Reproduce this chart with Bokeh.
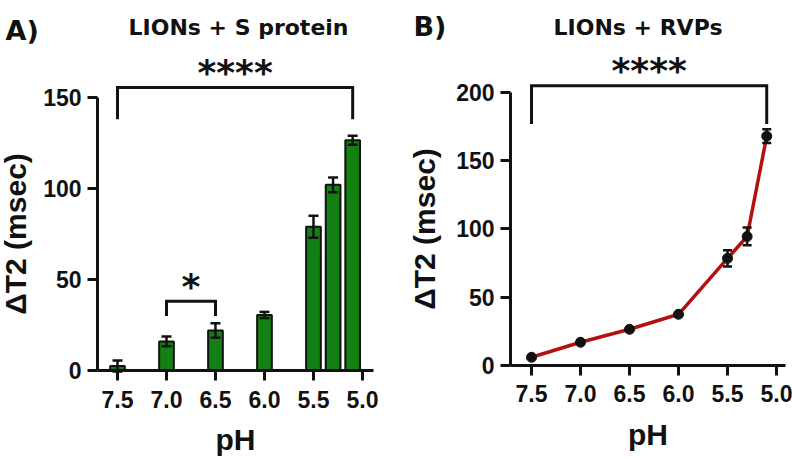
from bokeh.plotting import figure
from bokeh.layouts import row
from bokeh.models import (ColumnDataSource, Range1d, FixedTicker, NumeralTickFormatter,
                          Whisker, TeeHead, Label)
from bokeh.core.properties import value
from bokeh.embed import file_html
from bokeh.resources import INLINE

# pH values tested (x positions of bars / points)
ph = [7.5, 7.0, 6.5, 6.0, 5.5, 5.3, 5.1]

# Panel A: LIONs + S protein, mean dT2 (msec) and error
spike_dt2 = [2.5, 16.0, 22.0, 30.5, 79.0, 102.0, 126.5]
spike_err = [3.0, 2.7, 4.0, 1.7, 6.0, 4.0, 2.5]

# Panel B: LIONs + RVPs, mean dT2 (msec) and error
rvp_dt2 = [6.0, 17.0, 26.5, 37.5, 78.5, 94.5, 168.0]
rvp_err = [1.0, 1.0, 1.0, 1.0, 6.0, 6.5, 5.0]

# axis ticks
ph_ticks = [7.5, 7.0, 6.5, 6.0, 5.5, 5.0]
spike_yticks = [0, 50, 100, 150]
rvp_yticks = [0, 50, 100, 150, 200]

# significance brackets: (x from, x to, bracket top, arm bottom, stars)
spike_sig = [(7.5, 5.1, 155.5, 138.0, "****"), (7.0, 6.5, 38.0, 30.0, "*")]
rvp_sig = [(7.5, 5.1, 205.0, 177.0, "****")]

GREEN = "#138013"
RED = "#b3100f"
INK = "#111111"
TICK_FONT = "Liberation Sans"
TITLE_FONT = "DejaVu Sans"


def style_axes(p, yticks, x_axis_span, y_axis_at, ylabel_standoff):
    p.outline_line_color = None
    p.xgrid.visible = False
    p.ygrid.visible = False
    # axes sit inside the frame at fixed data positions (Prism-style offset axes)
    p.xaxis.fixed_location = 0
    p.yaxis.fixed_location = y_axis_at
    p.xaxis.bounds = x_axis_span
    p.yaxis.bounds = (yticks[0], yticks[-1])
    p.xaxis.ticker = FixedTicker(ticks=ph_ticks)
    p.xaxis.formatter = NumeralTickFormatter(format="0.0")
    p.yaxis.ticker = FixedTicker(ticks=yticks)
    p.xaxis.axis_label = "pH"
    p.yaxis.axis_label = "\u0394T2 (msec)"
    for ax in (p.xaxis[0], p.yaxis[0]):
        ax.axis_line_width = 3
        ax.axis_line_color = INK
        ax.major_tick_line_width = 3
        ax.major_tick_line_color = INK
        ax.major_tick_out = 10
        ax.major_tick_in = 0
        ax.minor_tick_out = 0
        ax.minor_tick_in = 0
        ax.major_label_text_font = TICK_FONT
        ax.major_label_text_font_style = "bold"
        ax.major_label_text_font_size = "23px"
        ax.major_label_text_color = INK
        ax.axis_label_text_font = TICK_FONT
        ax.axis_label_text_font_style = "bold"
        ax.axis_label_text_font_size = "30px"
        ax.axis_label_text_color = INK
    p.xaxis.major_label_standoff = 10
    p.xaxis.axis_label_standoff = 12
    p.yaxis.major_label_standoff = 6
    p.yaxis.axis_label_standoff = ylabel_standoff


def add_brackets(p, sig):
    xs, ys, tx, ty, tt = [], [], [], [], []
    for x1, x2, top, bottom, stars in sig:
        xs.append([x1, x1, x2, x2])
        ys.append([bottom, top, top, bottom])
        tx.append((x1 + x2) / 2)
        ty.append(top)
        tt.append(stars)
    p.multi_line(xs, ys, line_width=3, line_color=INK, line_join="miter")
    p.text(x=tx, y=ty, text=tt, text_font=value(TITLE_FONT), text_font_style="bold",
           text_font_size="36px", text_align="center", text_baseline="alphabetic",
           y_offset=-15, text_color=INK)


def add_heading(p, letter, title, letter_x, letter_y, title_x, title_y):
    p.add_layout(Label(x=letter_x, y=letter_y, x_units="screen", y_units="screen", text=letter,
                       text_font=TITLE_FONT, text_font_style="bold", text_font_size="27px",
                       text_align="left", text_baseline="alphabetic", text_color=INK))
    p.add_layout(Label(x=title_x, y=title_y, x_units="screen", y_units="screen", text=title,
                       text_font=TITLE_FONT, text_font_style="bold", text_font_size="22px",
                       text_align="center", text_baseline="alphabetic", text_color=INK))


# ---------------- Panel A: bar chart ----------------
pa = figure(frame_width=400, frame_height=459, min_border=0,
            x_range=Range1d(8.694, 4.612), y_range=Range1d(-48.9, 203.3),
            toolbar_location=None, output_backend="svg")
src_a = ColumnDataSource(dict(ph=ph, dt2=spike_dt2,
                              upper=[m + e for m, e in zip(spike_dt2, spike_err)],
                              lower=[m - e for m, e in zip(spike_dt2, spike_err)]))
pa.vbar(x="ph", top="dt2", bottom=0, width=0.15, source=src_a, fill_color=GREEN,
        line_color=INK, line_width=2)
pa.add_layout(Whisker(source=src_a, base="ph", upper="upper", lower="lower",
                      line_width=2.5, line_color=INK, level="annotation",
                      upper_head=TeeHead(size=10, line_width=2.5, line_color=INK),
                      lower_head=TeeHead(size=10, line_width=2.5, line_color=INK)))
add_brackets(pa, spike_sig)
style_axes(pa, spike_yticks, (4.888, 7.704), 7.704, 8)
add_heading(pa, "A)", "LIONs + S protein", 5, 429, 238, 432)

# ---------------- Panel B: line chart ----------------
pb = figure(frame_width=392, frame_height=459, min_border=0,
            x_range=Range1d(8.837, 4.837), y_range=Range1d(-68.9, 267.4),
            toolbar_location=None, output_backend="svg")
src_b = ColumnDataSource(dict(ph=ph, dt2=rvp_dt2,
                              upper=[m + e for m, e in zip(rvp_dt2, rvp_err)],
                              lower=[m - e for m, e in zip(rvp_dt2, rvp_err)]))
pb.line(x="ph", y="dt2", source=src_b, line_color=RED, line_width=3.5)
pb.add_layout(Whisker(source=src_b, base="ph", upper="upper", lower="lower",
                      line_width=2.5, line_color=INK, level="glyph",
                      upper_head=TeeHead(size=9, line_width=2.5, line_color=INK),
                      lower_head=TeeHead(size=9, line_width=2.5, line_color=INK)))
pb.scatter(x="ph", y="dt2", source=src_b, size=10, fill_color=INK,
           line_color=INK, level="overlay")
add_brackets(pb, rvp_sig)
style_axes(pb, rvp_yticks, (4.908, 7.714), 7.714, 12)
add_heading(pb, "B)", "LIONs + RVPs", 13, 433, 237.5, 432)

layout = row(pa, pb, spacing=0)
open("out.html", "w").write(file_html(layout, INLINE))
